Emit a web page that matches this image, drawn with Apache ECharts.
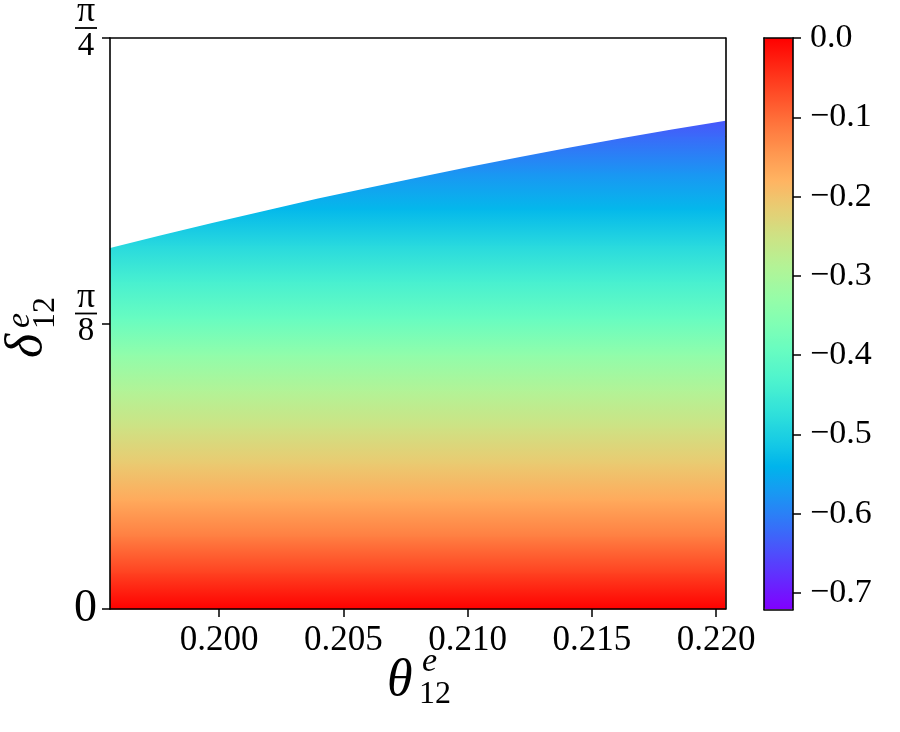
<!DOCTYPE html>
<html><head><meta charset="utf-8">
<script src="https://cdn.jsdelivr.net/npm/echarts@6/dist/echarts.min.js"></script>
<style>html,body{margin:0;padding:0;background:#fff}#c{width:900px;height:732px}</style>
</head><body><div id="c"></div>
<script>
// ---- data ----
const thetaRange = [0.19561, 0.22038];
const deltaRange = [0, Math.PI / 4];
const xTickValues = [0.200, 0.205, 0.210, 0.215, 0.220];
const xTickLabels = ['0.200', '0.205', '0.210', '0.215', '0.220'];
const yTickValues = [0, Math.PI / 8, Math.PI / 4];
const yTickLabels = ['0', ['π', '8'], ['π', '4']];
// upper edge of the coloured region
const boundaryTheta = [0.19561, 0.19763, 0.19972, 0.20185, 0.20398, 0.20607, 0.20829, 0.21010, 0.21211, 0.21412, 0.21613, 0.21822, 0.22038];
const boundaryDelta = [0.4966, 0.5136, 0.5308, 0.5479, 0.5647, 0.5799, 0.5957, 0.6083, 0.6217, 0.6347, 0.6472, 0.6596, 0.6717];
// colour value versus delta (read from the shading)
const deltaLevels = [0, 0.05, 0.10, 0.15, 0.20, 0.25, 0.30, 0.35, 0.40, 0.45, 0.50, 0.55, 0.60, 0.65, 0.70];
const heatValues  = [0, -0.06, -0.12, -0.168, -0.21, -0.25, -0.29, -0.337, -0.395, -0.44, -0.485, -0.535, -0.578, -0.622, -0.665];
// colour bar
const cbRange = [-0.7207, 0];
const cbTickValues = [0, -0.1, -0.2, -0.3, -0.4, -0.5, -0.6, -0.7];
const cbTickLabels = ['0.0', '−0.1', '−0.2', '−0.3', '−0.4', '−0.5', '−0.6', '−0.7'];
const rainbow = ['#8000ff','#6628fe','#4d4ffc','#3374f8','#1a96f3','#00b4ec','#1acee3','#33e3d9','#4df3ce','#66fcc2','#80ffb4','#99fca6','#b3f396','#cce385','#e6ce74','#ffb462','#ff964f','#ff743c','#ff4f28','#ff2814','#ff0000'];

const FONT = "'Liberation Serif', serif";
const chart = echarts.init(document.getElementById('c'), null, {renderer: 'canvas'});

function frameAxis(gridIndex, position, min, max) {
  return {
    type: 'value', gridIndex, position, min, max, z: 10,
    axisLine: {show: true, onZero: false, lineStyle: {color: '#000', width: 1.6}},
    axisTick: {show: false}, axisLabel: {show: false}, splitLine: {show: false}
  };
}

const option = {
  animation: false,
  backgroundColor: '#fff',
  grid: [
    {left: 110, top: 38, width: 615.5, height: 571, containLabel: false, outerBoundsMode: 'none'},
    {left: 764, top: 38, width: 29, height: 571.5, containLabel: false, outerBoundsMode: 'none'}
  ],
  xAxis: [
    {
      type: 'value', gridIndex: 0, position: 'bottom', min: thetaRange[0], max: thetaRange[1], z: 10,
      axisLine: {show: true, onZero: false, lineStyle: {color: '#000', width: 1.6}},
      axisTick: {show: true, inside: false, length: 8, customValues: xTickValues, lineStyle: {color: '#000', width: 1.5}},
      axisLabel: {show: true, customValues: xTickValues, margin: 14, color: '#000', fontFamily: FONT, fontSize: 35,
        formatter: v => { const i = xTickValues.findIndex(t => Math.abs(t - v) < 1e-9); return i >= 0 ? xTickLabels[i] : ''; }},
      splitLine: {show: false}
    },
    frameAxis(0, 'top', thetaRange[0], thetaRange[1]),
    frameAxis(1, 'bottom', 0, 1),
    frameAxis(1, 'top', 0, 1)
  ],
  yAxis: [
    {
      type: 'value', gridIndex: 0, position: 'left', min: deltaRange[0], max: deltaRange[1], z: 10,
      axisLine: {show: true, onZero: false, lineStyle: {color: '#000', width: 1.6}},
      axisTick: {show: true, inside: false, length: 8, customValues: yTickValues, lineStyle: {color: '#000', width: 1.5}},
      axisLabel: {show: true, customValues: yTickValues, margin: 13, color: '#000', fontFamily: FONT,
        formatter: v => {
          const i = yTickValues.findIndex(t => Math.abs(t - v) < 1e-6);
          if (i < 0) return '';
          const l = yTickLabels[i];
          if (typeof l === 'string') return '{z|' + l + '}';
          return '{n|' + l[0] + '}\n{b| }\n{d|' + l[1] + '}\n{e| }';
        },
        rich: {
          z: {fontSize: 46, fontFamily: FONT, color: '#000'},
          n: {fontSize: 36, fontFamily: FONT, color: '#000', width: 22, align: 'center', lineHeight: 26},
          b: {fontSize: 4, width: 22, height: 1.8, lineHeight: 6, backgroundColor: '#000'},
          d: {fontSize: 33, fontFamily: FONT, color: '#000', width: 22, align: 'center', lineHeight: 30},
          e: {fontSize: 4, lineHeight: 16}
        }
      },
      splitLine: {show: false}
    },
    frameAxis(0, 'right', deltaRange[0], deltaRange[1]),
    {
      type: 'value', gridIndex: 1, position: 'right', min: cbRange[0], max: cbRange[1], z: 10,
      axisLine: {show: true, onZero: false, lineStyle: {color: '#000', width: 1.6}},
      axisTick: {show: true, inside: false, length: 8, customValues: cbTickValues, lineStyle: {color: '#000', width: 1.5}},
      axisLabel: {show: true, customValues: cbTickValues, margin: 17, color: '#000', fontFamily: FONT, fontSize: 34,
        formatter: v => { const i = cbTickValues.findIndex(t => Math.abs(t - v) < 1e-9); return i >= 0 ? cbTickLabels[i] : ''; }},
      splitLine: {show: false}
    },
    frameAxis(1, 'left', cbRange[0], cbRange[1])
  ],
  visualMap: {
    type: 'continuous', seriesIndex: 0, dimension: 2,
    min: cbRange[0], max: cbRange[1], inRange: {color: rainbow},
    show: true, calculable: false, realtime: false, hoverLink: false,
    itemWidth: 29, itemHeight: 571.5, left: 764, top: 38, padding: 0, text: null
  },
  series: [
    {
      type: 'custom', xAxisIndex: 0, yAxisIndex: 0, silent: true,
      data: deltaLevels.map((d, i) => [thetaRange[0], d, heatValues[i]]),
      encode: {x: 0, y: 1},
      renderItem: (params, api) => {
        const i = params.dataIndexInside;
        if (i >= deltaLevels.length - 1) return null;
        const p0 = api.coord([thetaRange[0], deltaLevels[i]]);
        const p1 = api.coord([thetaRange[1], deltaLevels[i + 1]]);
        const c0 = api.visual('color', i), c1 = api.visual('color', i + 1);
        return {
          type: 'rect',
          shape: {x: p0[0], y: p1[1] - 0.5, width: p1[0] - p0[0], height: p0[1] - p1[1] + 1},
          style: {fill: new echarts.graphic.LinearGradient(0, 1, 0, 0, [{offset: 0, color: c0}, {offset: 1, color: c1}])}
        };
      }
    },
    {
      type: 'custom', xAxisIndex: 0, yAxisIndex: 0, silent: true,
      data: boundaryTheta.map((t, i) => [t, boundaryDelta[i]]),
      encode: {x: 0, y: 1},
      renderItem: (params, api) => {
        if (params.dataIndexInside !== 0) return null;
        const pts = boundaryTheta.map((t, i) => api.coord([t, boundaryDelta[i]]));
        pts.push(api.coord([thetaRange[1], deltaRange[1]]));
        pts.push(api.coord([thetaRange[0], deltaRange[1]]));
        return {type: 'polygon', shape: {points: pts}, style: {fill: '#fff'}};
      }
    }
  ],
  graphic: [
    {type: 'text', x: 387, y: 681, style: {text: 'θ', font: 'italic 52px ' + FONT, fill: '#000', align: 'left', verticalAlign: 'middle'}},
    {type: 'text', x: 422, y: 662, style: {text: 'e', font: 'italic 34px ' + FONT, fill: '#000', align: 'left', verticalAlign: 'middle'}},
    {type: 'text', x: 419, y: 695, style: {text: '12', font: '32px ' + FONT, fill: '#000', align: 'left', verticalAlign: 'middle'}},
    {type: 'group', x: 44, y: 358, rotation: Math.PI / 2, children: [
      {type: 'text', x: 0, y: -17, style: {text: 'δ', font: 'italic 52px ' + FONT, fill: '#000', align: 'left', verticalAlign: 'middle'}},
      {type: 'text', x: 30, y: -24, style: {text: 'e', font: 'italic 34px ' + FONT, fill: '#000', align: 'left', verticalAlign: 'middle'}},
      {type: 'text', x: 29, y: 2, style: {text: '12', font: '32px ' + FONT, fill: '#000', align: 'left', verticalAlign: 'middle'}}
    ]}
  ]
};
chart.setOption(option);
</script></body></html>
